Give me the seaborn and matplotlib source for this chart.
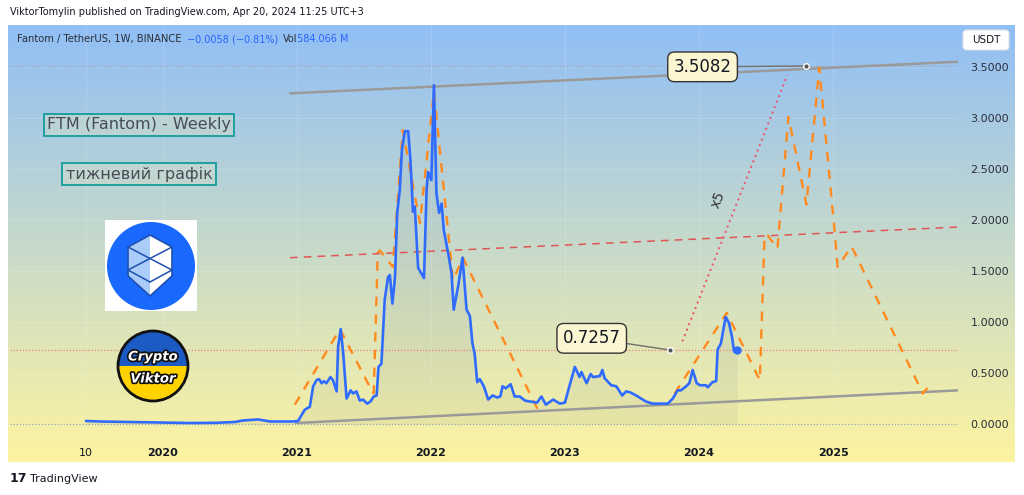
import numpy as np
import pandas as pd
import matplotlib
matplotlib.use("Agg")
import matplotlib.pyplot as plt
import matplotlib.patheffects as pe
from matplotlib.patches import Rectangle, Circle, Polygon, Wedge, FancyBboxPatch
import seaborn as sns

# FTM/USDT weekly close
price_dates = [
    "2019-06-06", "2019-07-14", "2019-10-04", "2019-12-25", "2020-03-16", "2020-05-23",
    "2020-07-16", "2020-08-07", "2020-09-17", "2020-10-20", "2020-11-30", "2020-12-21",
    "2021-01-04", "2021-01-22", "2021-02-05", "2021-02-14", "2021-02-23", "2021-03-02",
    "2021-03-09", "2021-03-15", "2021-03-22", "2021-04-02", "2021-04-09", "2021-04-19",
    "2021-04-23", "2021-04-30", "2021-05-07", "2021-05-16", "2021-05-27", "2021-06-03",
    "2021-06-12", "2021-06-21", "2021-06-30", "2021-07-11", "2021-07-20", "2021-07-29",
    "2021-08-06", "2021-08-11", "2021-08-19", "2021-08-28", "2021-09-06", "2021-09-11",
    "2021-09-18", "2021-09-25", "2021-10-01", "2021-10-08", "2021-10-14", "2021-10-22",
    "2021-10-31", "2021-11-06", "2021-11-13", "2021-11-18", "2021-11-27", "2021-12-13",
    "2021-12-20", "2021-12-24", "2022-01-02", "2022-01-09", "2022-01-16", "2022-01-23",
    "2022-01-30", "2022-02-05", "2022-02-17", "2022-02-26", "2022-03-04", "2022-03-16",
    "2022-03-28", "2022-04-08", "2022-04-17", "2022-04-24", "2022-04-30", "2022-05-07",
    "2022-05-14", "2022-05-25", "2022-06-06", "2022-06-18", "2022-06-30", "2022-07-09",
    "2022-07-15", "2022-07-24", "2022-08-06", "2022-08-17", "2022-08-31", "2022-09-14",
    "2022-09-29", "2022-10-17", "2022-10-29", "2022-11-10", "2022-11-30", "2022-12-18",
    "2023-01-01", "2023-01-10", "2023-01-28", "2023-02-10", "2023-02-15", "2023-03-01",
    "2023-03-12", "2023-03-19", "2023-04-06", "2023-04-13", "2023-04-19", "2023-05-07",
    "2023-05-21", "2023-06-06", "2023-06-17", "2023-06-28", "2023-07-14", "2023-08-10",
    "2023-08-28", "2023-09-20", "2023-10-08", "2023-10-22", "2023-11-04", "2023-11-13",
    "2023-11-27", "2023-12-06", "2023-12-15", "2023-12-26", "2024-01-04", "2024-01-20",
    "2024-01-25", "2024-02-07", "2024-02-17", "2024-02-21", "2024-03-01", "2024-03-14",
    "2024-03-23", "2024-03-31", "2024-04-06", "2024-04-15",
]
price_values = [
    0.03, 0.025, 0.02, 0.015, 0.01, 0.012,
    0.02, 0.035, 0.045, 0.025, 0.025, 0.025,
    0.03, 0.14, 0.17, 0.37, 0.43, 0.44,
    0.40, 0.42, 0.40, 0.46, 0.43, 0.32,
    0.76, 0.93, 0.69, 0.25, 0.33, 0.30,
    0.32, 0.23, 0.24, 0.20, 0.22, 0.27,
    0.28, 0.56, 0.59, 1.22, 1.44, 1.46,
    1.18, 1.44, 2.07, 2.29, 2.69, 2.87,
    2.87, 2.59, 2.08, 2.13, 1.53, 1.43,
    2.29, 2.47, 2.39, 3.32, 2.26, 2.07,
    2.16, 1.90, 1.67, 1.48, 1.12, 1.35,
    1.63, 1.12, 1.06, 0.79, 0.69, 0.41,
    0.44, 0.37, 0.24, 0.28, 0.26, 0.27,
    0.37, 0.35, 0.39, 0.27, 0.27, 0.23,
    0.22, 0.21, 0.27, 0.19, 0.24, 0.20,
    0.21, 0.33, 0.56, 0.46, 0.51, 0.40,
    0.49, 0.46, 0.47, 0.53, 0.45, 0.38,
    0.37, 0.28, 0.32, 0.31, 0.28, 0.22,
    0.20, 0.20, 0.20, 0.25, 0.33, 0.33,
    0.37, 0.40, 0.53, 0.40, 0.38, 0.38,
    0.36, 0.41, 0.42, 0.73, 0.79, 1.05,
    0.99, 0.86, 0.71, 0.7257,
]

# orange "bars pattern" path: 2021-22 cycle and its projection
cycle_dates = ["2020-12-26", "2021-04-28", "2021-07-13", "2021-07-29", "2021-08-09", "2021-08-15",
               "2021-09-19", "2021-10-16", "2021-12-02", "2022-01-09", "2022-03-02", "2022-03-29",
               "2022-10-22"]
cycle_values = [0.19, 0.93, 0.40, 0.30, 1.68, 1.70, 1.54, 2.88, 1.97, 3.26, 1.41, 1.63, 0.12]

proj_dates = ["2023-10-27", "2024-03-17", "2024-06-15", "2024-06-28", "2024-07-06", "2024-08-02",
              "2024-09-01", "2024-10-20", "2024-11-24", "2025-01-05", "2025-01-13", "2025-02-20",
              "2025-09-02", "2025-09-26"]
proj_values = [0.30, 1.09, 0.43, 1.85, 1.85, 1.72, 3.01, 2.15, 3.49, 1.88, 1.54, 1.74, 0.30, 0.40]

# trend lines (start, end)
top_line_dates = ["2020-12-13", "2025-12-07"]
top_line_values = [3.24, 3.55]
bottom_line_dates = ["2020-12-29", "2025-12-07"]
bottom_line_values = [0.01, 0.33]
mid_line_dates = ["2020-12-13", "2025-12-07"]
mid_line_values = [1.63, 1.93]
x5_dates = ["2023-11-17", "2024-08-29"]
x5_values = [0.81, 3.42]

high_level = 3.5082
last_price = 0.7257

y_ticks = [0.0, 0.5, 1.0, 1.5, 2.0, 2.5, 3.0, 3.5]
x_tick_dates = ["2019-06-05", "2020-01-01", "2021-01-01", "2022-01-01", "2023-01-01", "2024-01-01", "2025-01-01"]
x_tick_labels = ["10", "2020", "2021", "2022", "2023", "2024", "2025"]

price = pd.DataFrame({"date": pd.to_datetime(price_dates), "close": price_values})
cycle = pd.DataFrame({"date": pd.to_datetime(cycle_dates), "close": cycle_values})
proj = pd.DataFrame({"date": pd.to_datetime(proj_dates), "close": proj_values})

sns.set_theme(style="white")
plt.rcParams['font.family'] = ['DejaVu Sans']

W, H = 1024, 495
fig = plt.figure(figsize=(W / 100, H / 100), dpi=100)
fig.patch.set_facecolor("white")

def frac(x0, y0, x1, y1):
    return [x0 / W, 1 - y1 / H, (x1 - x0) / W, (y1 - y0) / H]

# gradient panel behind everything
bg = fig.add_axes(frac(8, 25, 1015, 462), zorder=0)
top_c = np.array([144, 191, 246]) / 255
bot_c = np.array([253, 244, 160]) / 255
t = np.linspace(0, 1, 256)[:, None]
grad = (1 - t) * top_c + t * bot_c
bg.imshow(grad[:, None, :], aspect="auto", extent=[0, 1, 0, 1])
bg.axis("off")

ax = fig.add_axes(frac(10, 25, 958, 437), zorder=1)
ax.set_facecolor("none")

xmin, xmax = pd.Timestamp("2018-11-11"), pd.Timestamp("2025-12-07")
ymin, ymax = -0.127, 3.91

sns.lineplot(data=price, x="date", y="close", ax=ax, color="#2f6bff", lw=1.9, zorder=5)
ax.fill_between(price["date"], price["close"], 0, color="#5a6e8c", alpha=0.08, lw=0, zorder=2)
ax.plot(price["date"].iloc[-1], price["close"].iloc[-1], "o", color="#2f6bff", ms=5, zorder=6)

for df in (cycle, proj):
    sns.lineplot(data=df, x="date", y="close", ax=ax, color="#ff8a1f", lw=1.7, zorder=4,
                 dashes=False, linestyle=(0, (4, 3.5)))

ax.plot(pd.to_datetime(top_line_dates), top_line_values, color="#9a9a9a", lw=1.8, zorder=3)
ax.plot(pd.to_datetime(bottom_line_dates), bottom_line_values, color="#9a9a9a", lw=1.8, zorder=3)
ax.plot(pd.to_datetime(mid_line_dates), mid_line_values, color="#e05555", lw=1.1,
        linestyle=(0, (5, 4)), zorder=3)
ax.plot(pd.to_datetime(x5_dates), x5_values, color="#f0506a", lw=1.4,
        linestyle=(0, (1, 2)), zorder=3)

ax.axhline(high_level, color="#9aa3ad", lw=0.9, linestyle=(0, (1, 1.5)), zorder=2)
ax.axhline(0.0, color="#9aa3ad", lw=0.9, linestyle=(0, (1, 1.5)), zorder=2)
ax.axhline(last_price, color="#f08080", lw=0.9, linestyle=(0, (1, 1.5)), zorder=2)

# callouts
box = dict(boxstyle="round,pad=0.35,rounding_size=0.4", fc="#fbf5d2", ec="#333333", lw=1)
ax.annotate(f"{high_level:.4f}", xy=(pd.Timestamp("2024-10-20"), high_level),
            xytext=(pd.Timestamp("2024-01-11"), 3.50), ha="center", va="center",
            fontsize=12, color="#131722", bbox=box, zorder=8,
            arrowprops=dict(arrowstyle="-", color="#707070", lw=1, shrinkA=0, shrinkB=0))
ax.plot(pd.Timestamp("2024-10-20"), high_level, "o", ms=4, mfc="#555555", mec="white", mew=1, zorder=9)
ax.annotate(f"{last_price:.4f}", xy=(pd.Timestamp("2023-10-13"), last_price),
            xytext=(pd.Timestamp("2023-03-15"), 0.84), ha="center", va="center",
            fontsize=12, color="#131722", bbox=box, zorder=8,
            arrowprops=dict(arrowstyle="-", color="#707070", lw=1, shrinkA=0, shrinkB=0))
ax.plot(pd.Timestamp("2023-10-13"), last_price, "o", ms=4, mfc="#555555", mec="white", mew=1, zorder=9)

ax.text(pd.Timestamp("2024-02-21"), 2.2, "x5", rotation=68, fontsize=10, color="#333333",
        ha="center", va="center", zorder=8)

ax.set_xlim(xmin, xmax)
ax.set_ylim(ymin, ymax)
ax.yaxis.tick_right()
ax.set_yticks(y_ticks)
ax.set_yticklabels([f"{v:.4f}" for v in y_ticks], fontsize=8, color="#2a2e39")
ax.set_xticks(pd.to_datetime(x_tick_dates))
ax.set_xticklabels(x_tick_labels, fontsize=8, color="#131722")
for lbl in ax.get_xticklabels()[1:]:
    lbl.set_fontweight("bold")
ax.tick_params(axis="y", length=0, pad=9)
ax.tick_params(axis="x", length=0, pad=8)
ax.set_xlabel("")
ax.set_ylabel("")
ax.grid(True, color="white", alpha=0.15, lw=0.8)
for s in ax.spines.values():
    s.set_visible(False)

# overlay in pixel coordinates for header, labels and logos
ov = fig.add_axes([0, 0, 1, 1], zorder=10)
ov.set_xlim(0, W)
ov.set_ylim(H, 0)
ov.axis("off")

ov.text(10, 12, "ViktorTomylin published on TradingView.com, Apr 20, 2024 11:25 UTC+3",
        fontsize=7.0, color="#131722", va="center")

# legend line: chain pieces one after another
pieces = [("Fantom / TetherUS, 1W, BINANCE", "#2a2e39", 0),
          ("\u22120.0058 (\u22120.81%)", "#2962ff", 4),
          ("Vol", "#2a2e39", 3),
          ("584.066 M", "#2962ff", 0)]
prev = ov.text(17, 39, pieces[0][0], fontsize=7.2, color=pieces[0][1], va="center")
for txt, col, gap in pieces[1:]:
    prev = ov.annotate(txt, xy=(1, 0.5), xycoords=prev, xytext=(gap, 0), textcoords="offset points",
                       fontsize=7.0, color=col, va="center", ha="left")

ov.add_patch(FancyBboxPatch((963, 30), 46, 20, boxstyle="round,pad=0,rounding_size=4",
                            fc="white", ec="#e0e3eb", lw=0.8))
ov.text(986, 40, "USDT", fontsize=7.5, color="#131722", ha="center", va="center")

title_box = dict(boxstyle="square,pad=0.2", fc=(0.8, 0.86, 0.8, 0.55), ec="#1fa0a0", lw=1.4)
ov.text(139, 125, "FTM (Fantom) - Weekly", fontsize=11.5, color="#464b55",
        ha="center", va="center", bbox=title_box)
ov.text(139, 174, "тижневий графік", fontsize=11.5, color="#464b55",
        ha="center", va="center", bbox=title_box)

# Fantom logo
ov.add_patch(Rectangle((105, 220), 92, 91, fc="white", ec="none"))
ov.add_patch(Circle((151, 266), 44, fc="#1969ff", ec="none"))
cx = 150
shield = [(cx, 235), (cx + 22, 247), (cx + 22, 276), (cx, 296), (cx - 22, 276), (cx - 22, 247)]
ov.add_patch(Polygon(shield, closed=True, fc="white", ec="none"))
left_half = [(cx, 235), (cx, 296), (cx - 22, 276), (cx - 22, 247)]
ov.add_patch(Polygon(left_half, closed=True, fc="#a9cdf8", ec="none"))
ov.add_patch(Polygon(shield, closed=True, fc="none", ec="#1e4fb0", lw=1.2))
for seg in [((cx - 22, 247), (cx + 22, 270)), ((cx + 22, 247), (cx - 22, 270)),
            ((cx - 22, 270), (cx, 282)), ((cx + 22, 270), (cx, 282))]:
    ov.plot([seg[0][0], seg[1][0]], [seg[0][1], seg[1][1]], color="#1e4fb0", lw=1.1)

# Crypto Viktor badge
bx, by, br = 153, 366, 35
ov.add_patch(Wedge((bx, by), br, 0, 180, fc="#ffd200", ec="none"))
ov.add_patch(Wedge((bx, by), br, 180, 360, fc="#1d5bc4", ec="none"))
ov.add_patch(Circle((bx, by), br, fc="none", ec="#111111", lw=2))
stroke = [pe.withStroke(linewidth=2.4, foreground="#111111")]
ov.text(bx, by - 9, "Crypto", fontsize=9.5, fontweight="bold", style="italic", color="white",
        ha="center", va="center", path_effects=stroke)
ov.text(bx, by + 13, "Viktor", fontsize=9.5, fontweight="bold", style="italic", color="white",
        ha="center", va="center", path_effects=stroke)

ov.text(10, 479, "17", fontsize=9, fontweight="bold", color="#131722", va="center")
ov.text(30, 479, "TradingView", fontsize=8, color="#131722", va="center")

fig.savefig("out.png", dpi=100)
